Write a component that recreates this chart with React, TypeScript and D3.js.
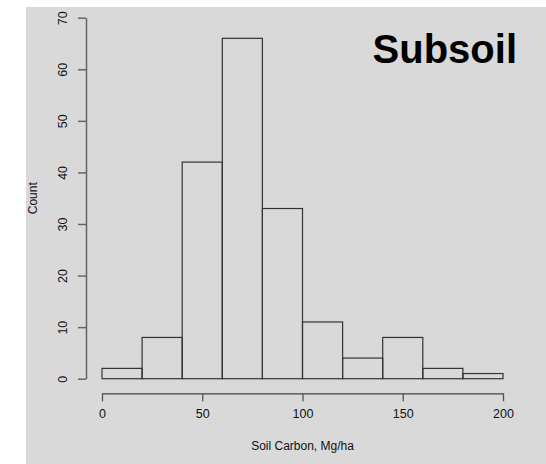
import { useEffect, useRef } from "react";
import * as d3 from "d3";

const binStarts = [0, 20, 40, 60, 80, 100, 120, 140, 160, 180];
const binWidth = 20;
const counts = [2, 8, 42, 66, 33, 11, 4, 8, 2, 1];
const xTicks = [0, 50, 100, 150, 200];
const yTicks = [0, 10, 20, 30, 40, 50, 60, 70];

const App = () => {
  const svgRef = useRef(null);

  useEffect(() => {
    const svg = d3.select(svgRef.current);
    svg.selectAll("*").remove();

    const width = 546;
    const height = 464;
    const font = "'Liberation Sans', Arial, Helvetica, sans-serif";

    // panel background
    svg.append("rect").attr("width", width).attr("height", height).attr("fill", "#fff");
    svg
      .append("rect")
      .attr("x", 26)
      .attr("y", 7)
      .attr("width", width - 26)
      .attr("height", height - 7)
      .attr("fill", "#d9d9d9");

    const x = d3.scaleLinear().domain([0, 200]).range([102, 503]);
    const y = d3.scaleLinear().domain([0, 70]).range([378.7, 17.7]);

    // bars
    svg
      .append("g")
      .selectAll("rect")
      .data(binStarts)
      .enter()
      .append("rect")
      .attr("x", (d) => x(d))
      .attr("width", (d) => x(d + binWidth) - x(d))
      .attr("y", (d, i) => y(counts[i]))
      .attr("height", (d, i) => y(0) - y(counts[i]))
      .attr("fill", "none")
      .attr("stroke", "#333")
      .attr("stroke-width", 1.2);

    // x axis
    const xAxis = svg
      .append("g")
      .attr("transform", "translate(0,393.3)")
      .call(d3.axisBottom(x).tickValues(xTicks).tickSize(8).tickSizeOuter(0).tickPadding(8));
    xAxis.select(".domain").attr("stroke", "#444").attr("stroke-width", 1.3);
    xAxis.selectAll(".tick line").attr("stroke", "#555").attr("stroke-width", 1.3);
    xAxis
      .selectAll(".tick text")
      .attr("font-family", font)
      .attr("font-size", "12.5px")
      .attr("fill", "#111");

    // y axis
    const yAxis = svg
      .append("g")
      .attr("transform", "translate(86,0)")
      .call(d3.axisLeft(y).tickValues(yTicks).tickSize(8).tickSizeOuter(0));
    yAxis.select(".domain").attr("stroke", "#666").attr("stroke-width", 1.5);
    yAxis.selectAll(".tick line").attr("stroke", "#666").attr("stroke-width", 1.5);
    yAxis
      .selectAll(".tick text")
      .attr("font-family", font)
      .attr("font-size", "12.5px")
      .attr("fill", "#111")
      .attr("x", 0)
      .attr("dy", null)
      .attr("text-anchor", "middle")
      .attr("dominant-baseline", "central")
      .attr("transform", "translate(-23,0) rotate(-90)");

    // axis labels
    svg
      .append("text")
      .attr("x", (x(0) + x(200)) / 2)
      .attr("y", 450)
      .attr("text-anchor", "middle")
      .attr("font-family", font)
      .attr("font-size", "12px")
      .attr("fill", "#111")
      .text("Soil Carbon, Mg/ha");

    svg
      .append("text")
      .attr("transform", `translate(37,${(y(0) + y(70)) / 2}) rotate(-90)`)
      .attr("text-anchor", "middle")
      .attr("font-family", font)
      .attr("font-size", "12px")
      .attr("fill", "#111")
      .text("Count");

    // title
    svg
      .append("text")
      .attr("x", 517)
      .attr("y", 63)
      .attr("text-anchor", "end")
      .attr("font-family", font)
      .attr("font-size", "40px")
      .attr("font-weight", "bold")
      .attr("fill", "#000")
      .text("Subsoil");
  }, []);

  return (
    <svg
      ref={svgRef}
      width="546"
      height="464"
      style={{ position: "absolute", left: 0, top: 0 }}
    ></svg>
  );
};

export default App;
